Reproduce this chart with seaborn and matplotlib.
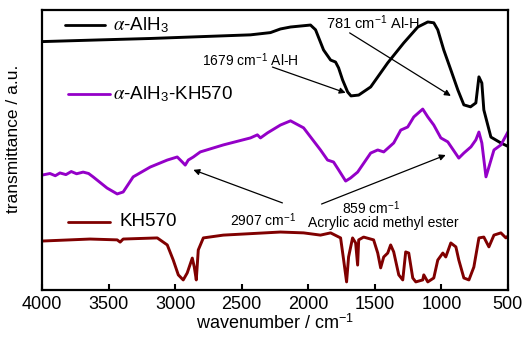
import numpy as np
import pandas as pd
import seaborn as sns
import matplotlib
matplotlib.use("Agg")
import matplotlib.pyplot as plt
from matplotlib.lines import Line2D

# ---- spectra (wavenumber / cm-1, offset transmittance / a.u.) ----
alh3_wn = [3992, 3563, 3187, 2434, 2284, 2209, 2133, 1983, 1945, 1885, 1832, 1795,
           1772, 1742, 1704, 1679, 1621, 1531, 1403, 1283, 1177, 1102, 1057, 1027,
           982, 929, 876, 831, 781, 741, 718, 696, 681, 628, 553, 492]
alh3_t = [88.7, 89.3, 89.8, 91.1, 91.9, 93.2, 93.9, 94.6, 92.9, 85.7, 82.1, 81.4,
          79.3, 75.0, 70.7, 69.3, 69.6, 72.5, 81.1, 88.2, 93.9, 95.7, 95.4, 92.9,
          85.7, 78.6, 71.4, 66.1, 65.4, 66.8, 76.1, 73.9, 64.3, 54.6, 52.5, 51.1]

mod_wn = [3992, 3940, 3900, 3865, 3820, 3780, 3740, 3691, 3650, 3616, 3511, 3435,
          3390, 3315, 3187, 3059, 2984, 2946, 2924, 2901, 2863, 2811, 2638, 2434,
          2382, 2359, 2306, 2209, 2133, 2035, 1908, 1855, 1810, 1772, 1719, 1682,
          1629, 1531, 1478, 1433, 1358, 1305, 1253, 1207, 1140, 1102, 1057, 1004,
          952, 869, 831, 778, 741, 718, 696, 665, 643, 605, 553, 492]
mod_t = [41.1, 41.6, 40.8, 41.8, 41.2, 42.3, 41.5, 42.1, 41.6, 40.4, 36.4, 34.3,
         35.0, 40.4, 43.9, 46.4, 47.5, 45.7, 44.6, 46.4, 47.5, 49.3, 51.8, 54.3,
         55.4, 54.3, 56.1, 58.9, 60.4, 57.9, 50.0, 46.4, 45.7, 42.9, 38.9, 40.0,
         42.1, 48.9, 50.0, 49.3, 52.5, 57.1, 58.2, 61.8, 64.6, 61.8, 58.9, 54.3,
         52.9, 47.1, 48.9, 51.1, 53.6, 56.4, 52.5, 40.4, 43.9, 50.0, 51.8, 57.1]

kh_wn = [3992, 3639, 3435, 3413, 3390, 3134, 3059, 3014, 2976, 2939, 2909, 2871,
         2856, 2841, 2826, 2788, 2638, 2209, 2035, 1908, 1832, 1757, 1734, 1712,
         1697, 1667, 1644, 1629, 1621, 1584, 1509, 1478, 1456, 1433, 1403, 1381,
         1358, 1320, 1290, 1268, 1245, 1215, 1192, 1140, 1132, 1102, 1057, 1027,
         989, 967, 929, 891, 869, 831, 793, 756, 718, 681, 643, 605, 553, 515, 492]
kh_t = [17.5, 18.2, 17.9, 17.1, 18.2, 18.6, 16.1, 10.7, 5.4, 3.6, 6.1, 11.4,
        8.2, 3.6, 14.3, 18.6, 19.6, 20.7, 20.4, 19.6, 20.4, 18.6, 10.7, 2.9,
        11.8, 18.6, 16.8, 8.9, 17.9, 18.9, 17.9, 13.2, 7.9, 11.8, 13.2, 16.1,
        13.6, 5.4, 3.6, 13.6, 13.2, 4.3, 2.9, 3.6, 5.4, 2.9, 4.3, 10.7,
        13.2, 11.8, 16.8, 15.4, 10.7, 4.3, 3.6, 8.2, 18.6, 18.9, 15.4, 19.6, 20.4, 18.6, 19.6]

series_names = [r"$\alpha$-AlH$_3$", r"$\alpha$-AlH$_3$-KH570", "KH570"]
series_colors = ["#000000", "#9400c8", "#800000"]

frames = []
for name, wn, t in zip(series_names, [alh3_wn, mod_wn, kh_wn], [alh3_t, mod_t, kh_t]):
    frames.append(pd.DataFrame({"wavenumber": wn, "T": t, "sample": name}))
df = pd.concat(frames, ignore_index=True)

sns.set_theme(style="white")
plt.rcParams["font.family"] = ["Liberation Sans", "DejaVu Sans"]
plt.rcParams["mathtext.fontset"] = "custom"
plt.rcParams["mathtext.rm"] = "Liberation Sans"
plt.rcParams["mathtext.it"] = "STIXGeneral:italic"
plt.rcParams["mathtext.fallback"] = "stix"
for key in ["text.color", "axes.labelcolor", "xtick.color", "ytick.color", "axes.edgecolor"]:
    plt.rcParams[key] = "black"

fig = plt.figure(figsize=(5.28, 3.42), dpi=100)
ax = fig.add_axes([0.0795, 0.152, 0.8825, 0.819])

sns.lineplot(data=df, x="wavenumber", y="T", hue="sample", palette=series_colors,
             hue_order=series_names, sort=False, estimator=None, linewidth=2.1,
             legend=False, ax=ax)

ax.set_xlim(4000, 500)
ax.set_ylim(0, 100)
ax.set_xticks([4000, 3500, 3000, 2500, 2000, 1500, 1000, 500])
ax.set_yticks([])
ax.tick_params(axis="x", direction="in", length=4, width=1.5, labelsize=13,
               bottom=True, top=False, pad=4)
for s in ax.spines.values():
    s.set_linewidth(1.6)
ax.set_xlabel("wavenumber / cm$^{-1}$", fontsize=13, labelpad=1)
ax.set_ylabel("transmittance / a.u.", fontsize=12.5, va="center")
ax.yaxis.set_label_coords(-0.062, 0.54)

# in-plot legend entries placed beside each spectrum
legend_pos = [(0.049, 0.135, 0.946, 0.152), (0.056, 0.146, 0.700, 0.152), (0.056, 0.146, 0.243, 0.167)]
for (x0, x1, yy, xt), name, col in zip(legend_pos, series_names, series_colors):
    ax.add_line(Line2D([x0, x1], [yy, yy], color=col, lw=2.0, transform=ax.transAxes))
    ax.text(xt, yy, name, transform=ax.transAxes, fontsize=13.5, va="center", ha="left")

arrow = dict(arrowstyle="-|>", color="black", lw=0.9, mutation_scale=9, shrinkA=0, shrinkB=0)
ax.text(1870, 95.4, "781 cm$^{-1}$ Al-H", fontsize=10.5, va="center", ha="left")
ax.annotate("", xy=(929, 69.3), xytext=(1689, 91.8), arrowprops=arrow)
ax.text(2800, 82.1, "1679 cm$^{-1}$ Al-H", fontsize=10, va="center", ha="left")
ax.annotate("", xy=(1719, 70.4), xytext=(2269, 79.6), arrowprops=arrow)
ax.text(2585, 25.0, "2907 cm$^{-1}$", fontsize=10, va="center", ha="left")
ax.annotate("", xy=(2863, 42.9), xytext=(2194, 31.1), arrowprops=arrow)
ax.text(1749, 29.3, "859 cm$^{-1}$", fontsize=10, va="center", ha="left")
ax.text(2005, 23.9, "Acrylic acid methyl ester", fontsize=10, va="center", ha="left")
ax.annotate("", xy=(967, 48.2), xytext=(1900, 30.7), arrowprops=arrow)

fig.savefig("out.png", dpi=100)
